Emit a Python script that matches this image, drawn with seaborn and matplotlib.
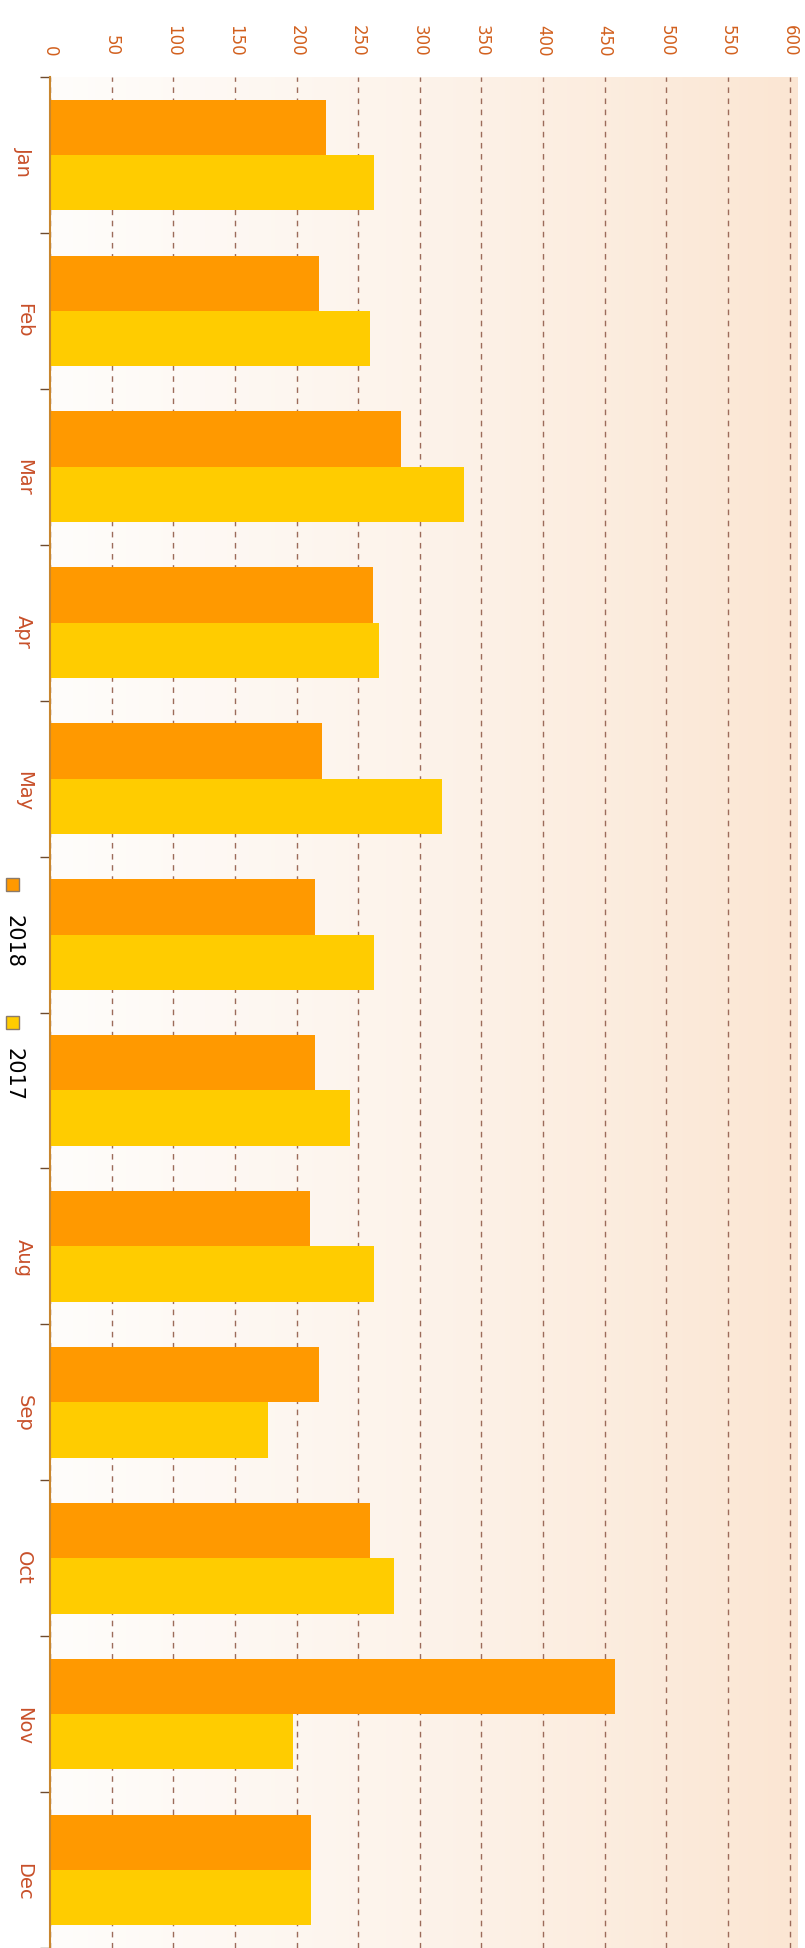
import numpy as np
import pandas as pd
import matplotlib
matplotlib.use("Agg")
import matplotlib.pyplot as plt
from matplotlib.colors import LinearSegmentedColormap
from matplotlib.patches import Rectangle
import seaborn as sns

months = ["Jan", "Feb", "Mar", "Apr", "May", "Jun",
          "Jul", "Aug", "Sep", "Oct", "Nov", "Dec"]
# Jun / Jul labels are hidden behind the legend in the original
month_labels = ["Jan", "Feb", "Mar", "Apr", "May", "",
                "", "Aug", "Sep", "Oct", "Nov", "Dec"]
values_2018 = [224, 218, 285, 262, 221, 215, 215, 211, 218, 260, 458, 212]
values_2017 = [263, 260, 336, 267, 318, 263, 243, 263, 177, 279, 197, 212]
years = ["2018", "2017"]
value_ticks = [0, 50, 100, 150, 200, 250, 300, 350, 400, 450, 500, 550, 600]

colors = {"2018": "#FF9900", "2017": "#FFCC00"}
label_color = "#D2601E"

df = pd.DataFrame({
    "month": months * 2,
    "value": values_2018 + values_2017,
    "year": ["2018"] * 12 + ["2017"] * 12,
})

sns.set_style("white")
plt.rcParams["font.family"] = ["DejaVu Sans"]

fig = plt.figure(figsize=(8.05, 19.48), dpi=100)
ax = fig.add_axes([50 / 805, 0, 747 / 805, 1 - 77 / 1948])

# soft gradient background
bg = LinearSegmentedColormap.from_list("bg", ["#FFFDFB", "#FDF3EA", "#FBE6D3"])
ax.imshow(np.linspace(0, 1, 256).reshape(1, -1), cmap=bg, aspect="auto",
          extent=(0, 1, 0, 1), transform=ax.transAxes, zorder=0)

sns.barplot(data=df, y="month", x="value", hue="year", hue_order=years,
            order=months, palette=colors, orient="h", width=0.71,
            saturation=1, legend=False, linewidth=0, ax=ax, zorder=2)

ax.set_xlim(0, 606)
ax.set_ylim(11.5, -0.5)
ax.set_xlabel("")
ax.set_ylabel("")

# value axis on top, rotated labels
ax.xaxis.tick_top()
ax.set_xticks(value_ticks)
ax.set_xticklabels([str(v) for v in value_ticks])
ax.tick_params(axis="x", length=0, pad=15, labelrotation=-90,
               labelcolor=label_color, labelsize=12)
ax.xaxis.grid(True, linestyle=(0, (4, 4)), color="#9C6B5A", lw=1)
ax.yaxis.grid(False)
ax.set_axisbelow(True)

# month axis with boundary ticks
ax.set_yticks(range(12))
ax.set_yticklabels(month_labels)
ax.set_yticks(np.arange(-0.5, 12, 1), minor=True)
ax.tick_params(axis="y", which="major", length=0, pad=12, labelrotation=-90,
               labelcolor="#C8502A", labelsize=14)
ax.tick_params(axis="y", which="minor", left=True, length=7, width=1,
               color="#6E4B2E")

for side in ["top", "right", "bottom"]:
    ax.spines[side].set_visible(False)
ax.spines["left"].set_color("#C8862E")
ax.spines["left"].set_linewidth(1.5)

# legend drawn sideways, like the rest of the chart
legend_pos = {"2018": (885, 915), "2017": (1022, 1048)}
for year in years:
    sq_y, txt_y = legend_pos[year]
    fig.add_artist(Rectangle((6 / 805, 1 - (sq_y + 6.5) / 1948), 13 / 805, 13 / 1948,
                             transform=fig.transFigure, facecolor=colors[year],
                             edgecolor="#8A7A6A", lw=1))
    fig.text(13 / 805, 1 - txt_y / 1948, year, rotation=-90, ha="center",
             va="top", fontsize=15, color="black")

fig.savefig("out.png", dpi=100)
